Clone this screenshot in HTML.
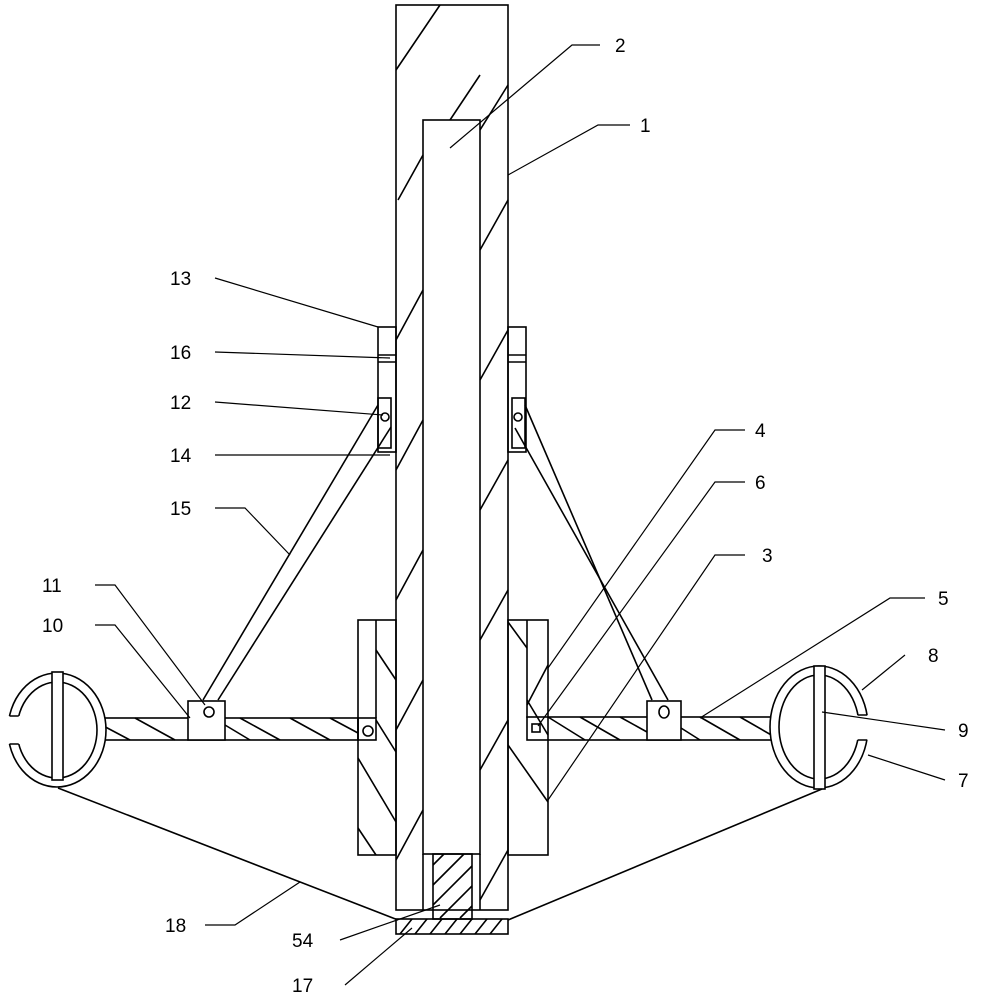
<!DOCTYPE html>
<html><head><style>body{margin:0;background:#fff}svg{display:block}text{font-family:"Liberation Sans",sans-serif;font-size:19px;fill:#000}</style></head>
<body>
<svg width="985" height="1000" viewBox="0 0 985 1000" xmlns="http://www.w3.org/2000/svg">
<g fill="none" stroke="#000" stroke-width="1.6">
<rect x="396" y="5" width="112" height="905" fill="#fff"/>
<rect x="423" y="120" width="57" height="734" fill="#fff"/>
<line x1="423" y1="854" x2="423" y2="910"/><line x1="480" y1="854" x2="480" y2="910"/>
<path d="M396 70L440 5 M398 200L423 155 M396 340L423 290 M396 470L423 420 M396 600L423 550 M396 730L423 680 M396 860L423 810
M480 130L508 85 M480 250L508 200 M480 380L508 330 M480 510L508 460 M480 640L508 590 M480 770L508 720 M480 900L508 850 M450 120L480 75"/>
<rect x="358" y="620" width="38" height="235"/>
<line x1="376" y1="620" x2="376" y2="718"/>
<rect x="508" y="620" width="40" height="235"/>
<line x1="527" y1="620" x2="527" y2="718"/>
<path d="M376 650L396 680 M376 720L396 752 M358 758L396 822 M358 828L376 855 M508 622L527 648 M508 745L548 802 M548 665L527 705 M527 700L548 735"/>
<rect x="433" y="854" width="39" height="65"/>
<path d="M433 865L444 854 M433 885L464 854 M433 905L472 866 M440 918L472 886 M460 918L472 906"/>
<rect x="396" y="919" width="112" height="15"/>
<path d="M400 934L412 919 M415 934L427 919 M430 934L442 919 M445 934L457 919 M460 934L472 919 M475 934L487 919 M490 934L502 919"/>
<rect x="378" y="327" width="18" height="125"/>
<line x1="378" y1="355" x2="396" y2="355"/><line x1="378" y1="362" x2="396" y2="362"/>
<rect x="378" y="398" width="13" height="50"/><circle cx="385" cy="417" r="4"/>
<rect x="508" y="327" width="18" height="125"/>
<line x1="508" y1="355" x2="526" y2="355"/><line x1="508" y1="362" x2="526" y2="362"/>
<rect x="512" y="398" width="13" height="50"/><circle cx="518" cy="417" r="4"/>
<line x1="378" y1="405" x2="203" y2="700"/><line x1="391" y1="427" x2="218" y2="700"/>
<line x1="525" y1="405" x2="652" y2="700"/><line x1="515" y1="428" x2="668" y2="700"/>
<rect x="96" y="718" width="262" height="22"/>
<path d="M96 722L130 740 M135 718L175 740 M225 725L250 740 M240 718L280 740 M290 718L330 740 M330 718L358 733"/>
<rect x="358" y="718" width="18" height="22"/><circle cx="368" cy="731" r="5"/>
<rect x="188" y="701" width="37" height="39" fill="#fff"/><circle cx="209" cy="712" r="5"/>
<rect x="527" y="717" width="253" height="23"/>
<path d="M548 717L585 740 M580 717L620 740 M620 717L647 732 M681 728L700 740 M700 717L740 740 M740 717L780 740"/>
<rect x="532" y="724" width="8" height="8"/>
<rect x="647" y="701" width="34" height="39" fill="#fff"/><ellipse cx="664" cy="712" rx="5" ry="6"/>
<!-- left clamp -->
<ellipse cx="57" cy="730" rx="49" ry="57" fill="#fff"/>
<ellipse cx="57" cy="730" rx="40" ry="48"/>
<rect x="4" y="716" width="17" height="28" fill="#fff" stroke="none"/>
<path d="M9.5 716H18.7 M9.5 744H18.7"/>
<rect x="52" y="672" width="11" height="108" fill="#fff"/>
<!-- right clamp -->
<ellipse cx="819" cy="727" rx="49" ry="61" fill="#fff"/>
<ellipse cx="819" cy="727" rx="40" ry="52"/>
<rect x="856" y="715" width="17" height="25" fill="#fff" stroke="none"/>
<path d="M857.6 715H867.3 M857.6 740H867.3"/>
<rect x="814" y="666" width="11" height="123" fill="#fff"/>
<line x1="58" y1="788" x2="398" y2="920"/><line x1="822" y1="789" x2="508" y2="920"/>
</g>
<g fill="none" stroke="#000" stroke-width="1.2">
<path d="M600 45H572L450 148"/>
<path d="M630 125H598L508 175"/>
<path d="M215 278L378 327"/><path d="M215 352L390 358"/><path d="M215 402L383 415"/><path d="M215 455L390 455"/>
<path d="M215 508H245L290 555"/>
<path d="M95 585H115L205 705"/><path d="M95 625H115L190 718"/>
<path d="M745 430H715L548 668"/><path d="M745 482H715L538 726"/><path d="M745 555H715L548 800"/>
<path d="M925 598H890L700 718"/>
<path d="M905 655L862 690"/><path d="M945 730L822 712"/><path d="M945 780L868 755"/>
<path d="M205 925H235L300 882"/><path d="M340 940L440 905"/><path d="M345 985L412 928"/>
</g>
<text x="615" y="52">2</text><text x="640" y="132">1</text>
<text x="170" y="285">13</text><text x="170" y="359">16</text><text x="170" y="409">12</text><text x="170" y="462">14</text><text x="170" y="515">15</text>
<text x="42" y="592">11</text><text x="42" y="632">10</text>
<text x="755" y="437">4</text><text x="755" y="489">6</text><text x="762" y="562">3</text>
<text x="938" y="605">5</text><text x="928" y="662">8</text><text x="958" y="737">9</text><text x="958" y="787">7</text>
<text x="165" y="932">18</text><text x="292" y="947">54</text><text x="292" y="992">17</text>
</svg>
</body></html>
